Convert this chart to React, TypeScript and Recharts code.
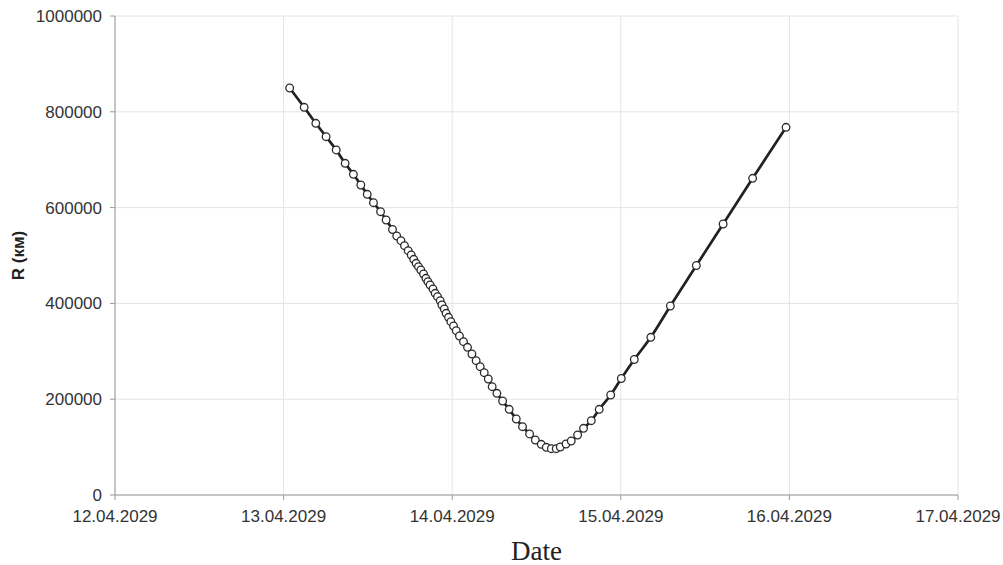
import React from 'react';
import { LineChart, Line, XAxis, YAxis, CartesianGrid } from 'recharts';

// time in days of April 2029 (12.0 = 12.04.2029 00:00)
const days = [
  13.036, 13.122, 13.191, 13.252, 13.312, 13.365, 13.414, 13.458, 13.496, 13.533,
  13.575, 13.608, 13.646, 13.671, 13.696, 13.717, 13.739, 13.757, 13.772, 13.786,
  13.8, 13.814, 13.83, 13.844, 13.856, 13.869, 13.886, 13.899, 13.913, 13.929,
  13.939, 13.953, 13.964, 13.978, 13.992, 14.008, 14.024, 14.043, 14.067, 14.091,
  14.117, 14.142, 14.166, 14.19, 14.214, 14.237, 14.265, 14.299, 14.338, 14.38,
  14.417, 14.459, 14.493, 14.528, 14.558, 14.588, 14.617, 14.641, 14.675, 14.706,
  14.744, 14.779, 14.825, 14.872, 14.94, 15.003, 15.08, 15.178, 15.294, 15.448,
  15.607, 15.782, 15.98,
];

// distance, km
const radiusKm = [
  849700, 809400, 776000, 748000, 720300, 692500, 669500, 647200, 627800, 610200,
  591400, 574100, 554300, 540700, 530900, 520500, 510000, 501000, 492100, 483700,
  476600, 469700, 461400, 452400, 445300, 438400, 430100, 421100, 414000, 405600,
  396700, 388300, 379300, 371000, 361800, 352800, 343000, 331900, 320000, 308400,
  294400, 280400, 267800, 255300, 242200, 226100, 212300, 196200, 178900, 158700,
  142600, 127400, 114800, 105800, 99600, 96700, 96700, 100200, 106500, 112700,
  125300, 139200, 155100, 178900, 208800, 243200, 282900, 329200, 394600, 479100,
  565800, 661200, 767600,
];

const dayTicks = [12, 13, 14, 15, 16, 17];
const rTicks = [0, 200000, 400000, 600000, 800000, 1000000];

const data = days.map((d, i) => ({ t: d, r: radiusKm[i] }));

const sans = '"Liberation Sans", Arial, sans-serif';

export default function App() {
  return (
    <div style={{ position: 'absolute', left: 0, top: 0, background: '#fff' }}>
      <LineChart width={1003} height={565} data={data} margin={{ top: 16, right: 45, bottom: 0, left: 0 }}>
        <CartesianGrid stroke="#e4e4e4" strokeWidth={1} />
        <XAxis
          dataKey="t"
          type="number"
          domain={[12, 17]}
          ticks={dayTicks}
          tickFormatter={(v: number) => `${v}.04.2029`}
          height={70}
          stroke="#9a9a9a"
          tickSize={5}
          tickMargin={10}
          tick={{ fill: '#333', fontSize: 17, fontFamily: sans }}
          label={{
            value: 'Date',
            position: 'insideBottom',
            offset: 5,
            style: { fill: '#222', fontSize: 27, fontFamily: '"Liberation Serif", "Times New Roman", serif' },
          }}
        />
        <YAxis
          type="number"
          domain={[0, 1000000]}
          ticks={rTicks}
          width={115}
          stroke="#9a9a9a"
          tickSize={5}
          tickMargin={8}
          tick={{ fill: '#333', fontSize: 17, fontFamily: sans }}
          label={{
            value: 'R (км)',
            angle: -90,
            position: 'insideLeft',
            offset: 18,
            style: { fill: '#222', fontSize: 17, fontWeight: 'bold', fontFamily: sans, textAnchor: 'middle' },
          }}
        />
        <Line
          dataKey="r"
          type="monotone"
          stroke="#222"
          strokeWidth={2.7}
          dot={{ r: 3.8, fill: '#fff', stroke: '#2a2a2a', strokeWidth: 1.3 }}
          isAnimationActive={false}
        />
      </LineChart>
    </div>
  );
}
